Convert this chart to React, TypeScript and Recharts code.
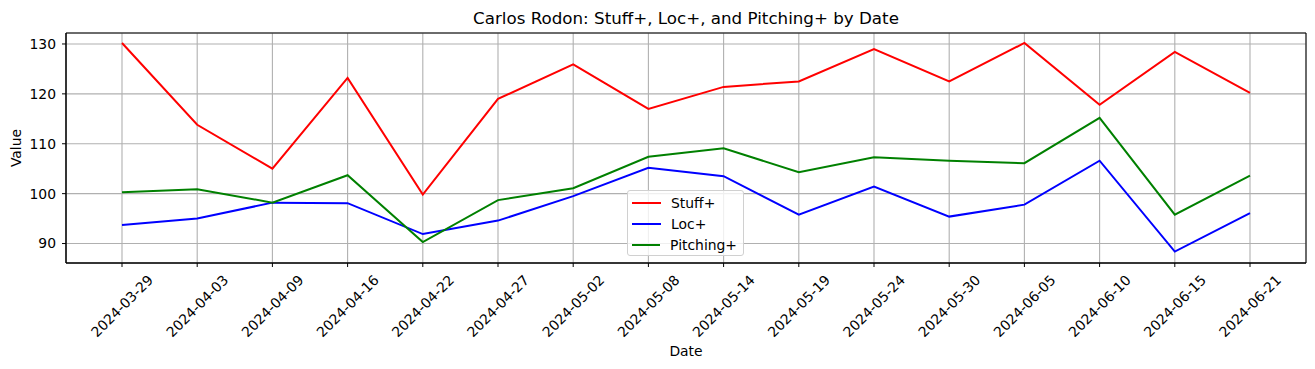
import React from 'react';
import { LineChart, Line, XAxis, YAxis, CartesianGrid, Legend } from 'recharts';

const dates = ['2024-03-29','2024-04-03','2024-04-09','2024-04-16','2024-04-22','2024-04-27','2024-05-02','2024-05-08','2024-05-14','2024-05-19','2024-05-24','2024-05-30','2024-06-05','2024-06-10','2024-06-15','2024-06-21'];
const stuffPlus = [130.2,113.8,105.0,123.2,99.8,119.0,125.9,117.0,121.4,122.5,129.0,122.5,130.2,117.8,128.4,120.2];
const locPlus = [93.7,95.0,98.2,98.1,91.9,94.6,99.5,105.2,103.5,95.8,101.4,95.4,97.8,106.6,88.4,96.1];
const pitchingPlus = [100.3,100.9,98.2,103.7,90.3,98.7,101.1,107.4,109.1,104.3,107.3,106.6,106.1,115.2,95.8,103.6];
const yTicks = [90, 100, 110, 120, 130];
const yDomain: [number, number] = [86.1, 132.2];

const data = dates.map((d, i) => ({ date: d, stuff: stuffPlus[i], loc: locPlus[i], pitching: pitchingPlus[i] }));

const FONT = '"DejaVu Sans", sans-serif';
const FS = 13.9;

const series = [
  { key: 'stuff', name: 'Stuff+', color: '#ff0000' },
  { key: 'loc', name: 'Loc+', color: '#0000ff' },
  { key: 'pitching', name: 'Pitching+', color: '#008000' },
];

const XTick = (props: any) => {
  const { x, y, payload } = props;
  return (
    <text
      transform={`translate(${x},${y + 37}) rotate(-45)`}
      textAnchor="middle"
      dominantBaseline="central"
      fontSize={FS}
      fontFamily={FONT}
      fill="#000"
    >
      {payload.value}
    </text>
  );
};

const LegendBox = () => (
  <div
    style={{
      border: '1px solid #d0d0d0',
      borderRadius: 3,
      background: 'rgba(255,255,255,0.8)',
      padding: '1px 6px 1px 4px',
      fontFamily: FONT,
      fontSize: FS,
      width: 117,
      height: 66,
      boxSizing: 'border-box',
    }}
  >
    {series.map((s) => (
      <div key={s.key} style={{ display: 'flex', alignItems: 'center', height: 21 }}>
        <svg width={29} height={4} style={{ marginRight: 10 }}>
          <line x1={0} y1={2} x2={29} y2={2} stroke={s.color} strokeWidth={2} />
        </svg>
        <span>{s.name}</span>
      </div>
    ))}
  </div>
);

export default function App() {
  return (
    <div style={{ position: 'absolute', left: 0, top: 0, width: 1315, height: 369, background: '#fff' }}>
      <div
        style={{
          position: 'absolute',
          left: 66,
          width: 1240,
          top: 7,
          textAlign: 'center',
          fontFamily: FONT,
          fontSize: 16.7,
          lineHeight: '22px',
          color: '#000',
        }}
      >
        Carlos Rodon: Stuff+, Loc+, and Pitching+ by Date
      </div>
      <LineChart
        width={1315}
        height={369}
        data={data}
        margin={{ top: 33, right: 9, left: 0, bottom: 0 }}
      >
        <CartesianGrid stroke="#b0b0b0" strokeWidth={1.1} />
        <CartesianGrid
          stroke="#000"
          strokeWidth={1}
          horizontalCoordinatesGenerator={(p: any) => [p.offset.top, p.offset.top + p.offset.height]}
          verticalCoordinatesGenerator={(p: any) => [p.offset.left, p.offset.left + p.offset.width]}
        />
        <XAxis
          dataKey="date"
          interval={0}
          padding={{ left: 56, right: 56 }}
          height={106}
          tickSize={4}
          tickMargin={2}
          tick={<XTick />}
          axisLine={{ stroke: '#000' }}
          tickLine={{ stroke: '#000' }}
          label={{
            content: (p: any) => {
              const vb = p.viewBox;
              return (
                <text x={vb.x + vb.width / 2} y={351} textAnchor="middle" dominantBaseline="central" fontSize={FS} fontFamily={FONT} fill="#000">
                  Date
                </text>
              );
            },
          }}
        />
        <YAxis
          width={66}
          domain={yDomain}
          ticks={yTicks}
          allowDataOverflow
          tickSize={4}
          tickMargin={6}
          tick={{ fontSize: FS, fontFamily: FONT, fill: '#000' }}
          axisLine={{ stroke: '#000' }}
          tickLine={{ stroke: '#000' }}
          label={{
            content: (p: any) => {
              const vb = p.viewBox;
              const cy = vb.y + vb.height / 2;
              return (
                <text x={16} y={cy} transform={`rotate(-90 16 ${cy})`} textAnchor="middle" dominantBaseline="central" fontSize={FS} fontFamily={FONT} fill="#000">
                  Value
                </text>
              );
            },
          }}
        />
        {series.map((s) => (
          <Line
            key={s.key}
            type="linear"
            dataKey={s.key}
            name={s.name}
            stroke={s.color}
            strokeWidth={2}
            dot={false}
            activeDot={false}
            isAnimationActive={false}
          />
        ))}
        <Legend
          layout="vertical"
          align="center"
          verticalAlign="middle"
          content={<LegendBox />}
          wrapperStyle={{ left: 627, top: 190, width: 'auto' }}
        />
      </LineChart>
    </div>
  );
}
